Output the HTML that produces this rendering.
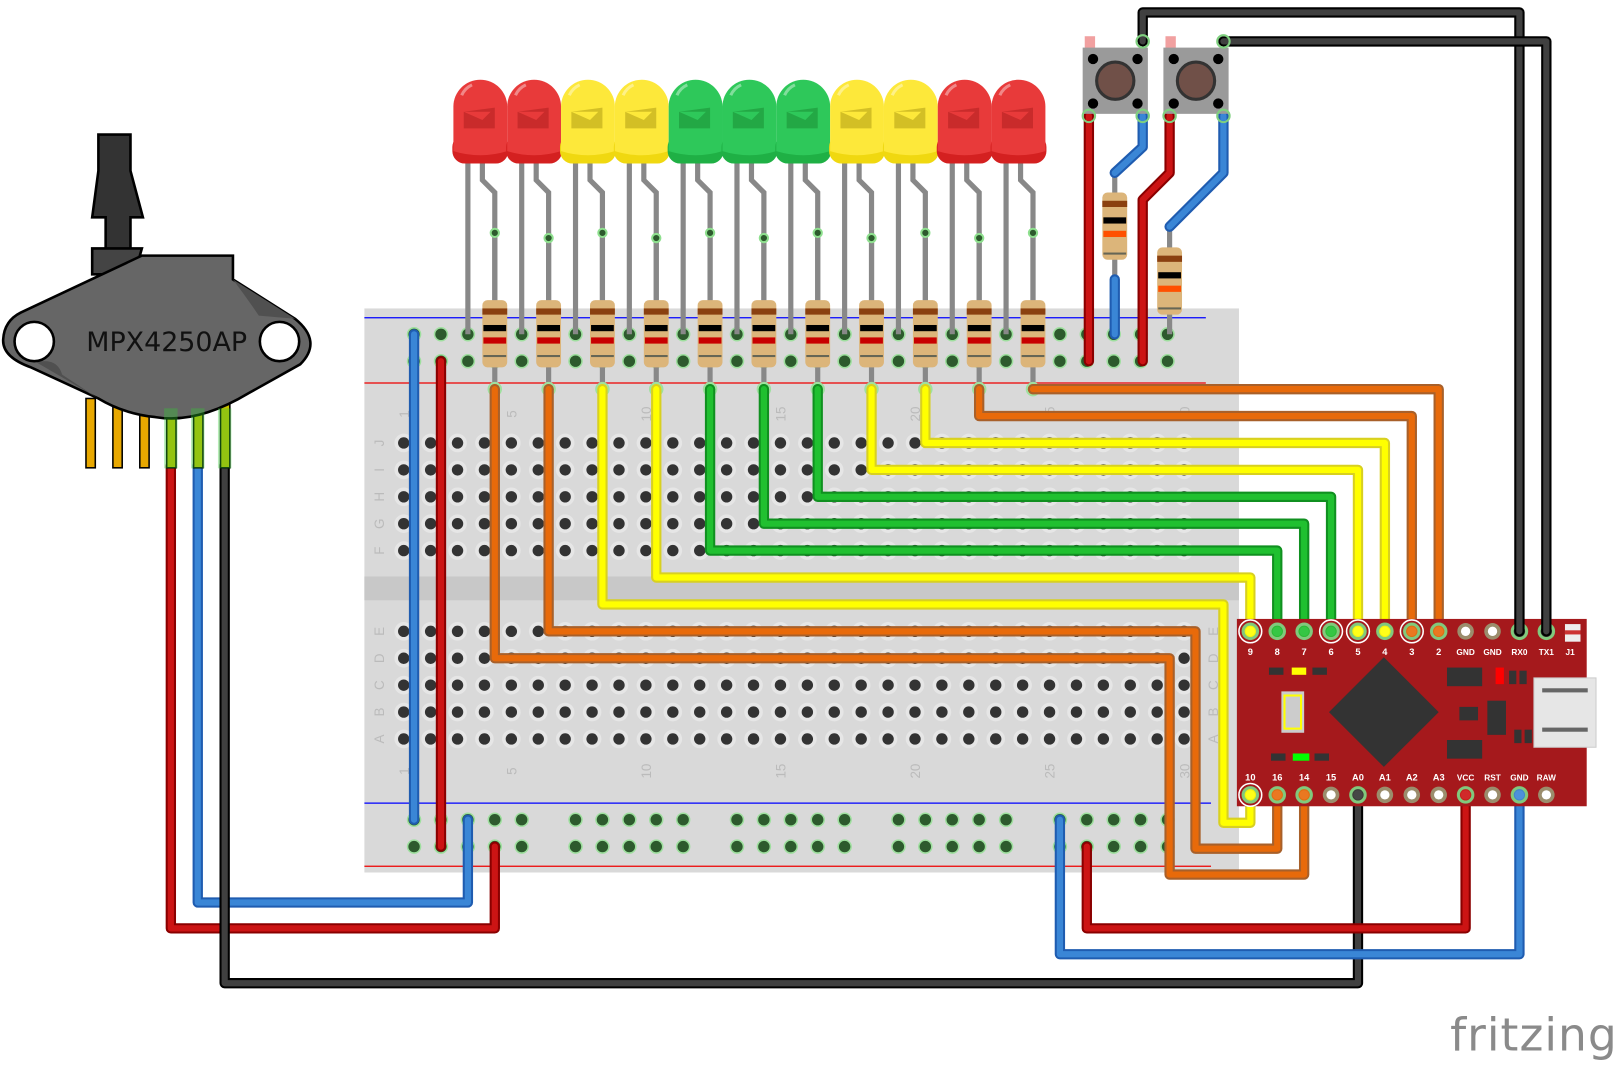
<!DOCTYPE html>
<html><head><meta charset="utf-8"><style>html,body{margin:0;padding:0;background:#fff;overflow:hidden}svg{display:block}</style></head>
<body>
<svg id="s" xmlns="http://www.w3.org/2000/svg" width="1623" height="1065" viewBox="0 0 1568 1029" font-family="Liberation Sans, DejaVu Sans, sans-serif"></svg>
<script>
const S=document.getElementById('s');let h='';
function add(x){h+=x}
function wire(pts,c,d){const p=pts.map(a=>a.join(',')).join(' ');
 add(`<polyline points="${p}" fill="none" stroke="${d}" stroke-width="10" stroke-linejoin="round" stroke-linecap="round"/>`);
 add(`<polyline points="${p}" fill="none" stroke="${c}" stroke-width="6" stroke-linejoin="round" stroke-linecap="round"/>`);}
function hole(x,y,g){ if(g) add(`<circle cx="${x}" cy="${y}" r="7" fill="#8fe08f" opacity=".8"/>`);
 add(`<circle cx="${x}" cy="${y}" r="5.5" fill="${g?'#2d5a2d':'#333'}"/>`);}
add(`<rect x="352" y="298" width="845" height="545" fill="#d9d9d9"/>`);
add(`<rect x="352" y="557" width="845" height="23" fill="#c8c8c8"/>`);
add(`<line x1="352" y1="307" x2="1165" y2="307" stroke="#00f" stroke-width="1.2"/>`);
add(`<line x1="352" y1="370" x2="1165" y2="370" stroke="#e00" stroke-width="1.2"/>`);
add(`<line x1="352" y1="776" x2="1170" y2="776" stroke="#00f" stroke-width="1.2"/>`);
add(`<line x1="352" y1="837" x2="1170" y2="837" stroke="#e00" stroke-width="1.2"/>`);
const rows=[428,454,480,506,532,610,636,662,688,714];const rl='JIHGFEDCBA';
for(let r=0;r<10;r++){for(let c=0;c<30;c++){const x=390+c*26;add(`<circle cx="${x}" cy="${rows[r]}" r="9" fill="#e6e6e6"/>`);hole(x,rows[r],false)}
 add(`<text x="366" y="${rows[r]+5}" font-size="13" fill="#bbb" text-anchor="middle" transform="rotate(-90 366 ${rows[r]})">${rl[r]}</text>`);
 add(`<text x="1172" y="${rows[r]+5}" font-size="13" fill="#bbb" text-anchor="middle" transform="rotate(-90 1172 ${rows[r]})">${rl[r]}</text>`);}
for(const n of [1,5,10,15,20,25,30]){const x=390+(n-1)*26+5;
 add(`<text x="${x}" y="400" font-size="13" fill="#bbb" text-anchor="middle" transform="rotate(-90 ${x} 400)">${n}</text>`);
 add(`<text x="${x}" y="745" font-size="13" fill="#bbb" text-anchor="middle" transform="rotate(-90 ${x} 745)">${n}</text>`);}
for(let g=0;g<5;g++)for(let i=0;i<5;i++){const x=400+g*156+i*26;for(const y of [323,349,792,818])hole(x,y,true)}
wire([[400,323],[400,792]],'#3a86d6','#1f5cb0');
wire([[426,349],[426,818]],'#cc1414','#8a0000');
const cols=[['#e83a3a','#d42020','#c02828'],['#e83a3a','#d42020','#c02828'],['#fde83a','#f0d810','#c8b420'],['#fde83a','#f0d810','#c8b420'],['#2ec85a','#1fb045','#20a040'],['#2ec85a','#1fb045','#20a040'],['#2ec85a','#1fb045','#20a040'],['#fde83a','#f0d810','#c8b420'],['#fde83a','#f0d810','#c8b420'],['#e83a3a','#d42020','#c02828'],['#e83a3a','#d42020','#c02828']];
const wc=[['#e86a0a','#a8602a'],['#e86a0a','#a8602a'],['#ffff00','#d8d020'],['#ffff00','#d8d020'],['#20c030','#109020'],['#20c030','#109020'],['#20c030','#109020'],['#ffff00','#d8d020'],['#ffff00','#d8d020'],['#e86a0a','#a8602a'],['#e86a0a','#a8602a']];
for(let i=0;i<11;i++){const cx=464+i*52,L=cx-12,R=cx+14;
 add(`<polyline points="${L},150 ${L},323" fill="none" stroke="#888" stroke-width="5"/>`);
 add(`<polyline points="${cx+2},150 ${cx+2},174 ${R},186 ${R},290" fill="none" stroke="#888" stroke-width="5"/>`);
 add(`<rect x="${cx-27}" y="130" width="54" height="28" rx="12" fill="${cols[i][1]}"/>`);
 add(`<path d="M${cx-26},${146} V${103} a26,26 0 0 1 52,0 V146 Q${cx},154 ${cx-26},146 Z" fill="${cols[i][0]}"/>`);
 add(`<path d="M${cx-16},108 h30 v-4 l-12,12 M${cx-16},108 v16 h30 v-20" fill="${cols[i][2]}" opacity=".8"/>`);
 add(`<path d="M${cx-18},92 a20,20 0 0 1 10,-10" stroke="#fff" stroke-width="3" fill="none" opacity=".4"/>`);
 add(`<line x1="${R}" y1="225" x2="${R}" y2="378" stroke="#888" stroke-width="5"/>`);
 add(`<circle cx="${R}" cy="${225+ (i%2)*5}" r="4" fill="#2d5a2d" stroke="#8fe08f" stroke-width="2"/>`);
 add(`<rect x="${R-12}" y="290" width="24" height="65" rx="5" fill="#dcb57a"/>`);
 add(`<rect x="${R-12}" y="298" width="24" height="6" fill="#8a4010"/><rect x="${R-11}" y="314" width="22" height="6" fill="#000"/><rect x="${R-11}" y="326" width="22" height="6" fill="#c80000"/><rect x="${R-11}" y="343" width="22" height="2" fill="#665"/>`);
 add(`<circle cx="${R}" cy="376" r="6" fill="${wc[i][0]}" stroke="#9fe09f" stroke-width="2"/>`);
}
const ly=[636,610,584,558,532,506,480,454,428,402,376];
wire([[478,376],[478,636],[1130,636],[1130,845],[1260,845],[1260,768]],...wc[0]);
wire([[530,376],[530,610],[1155,610],[1155,820],[1234,820],[1234,768]],...wc[1]);
wire([[582,376],[582,584],[1182,584],[1182,795],[1208,795],[1208,768]],...wc[2]);
for(let i=3;i<11;i++){const x=478+i*52,px=1208+(i-3)*26;wire([[x,376],[x,ly[i]],[px,ly[i]],[px,610]],...wc[i]);}
wire([[165,450],[165,897],[478,897],[478,818]],'#cc1414','#8a0000');
wire([[191,450],[191,872],[452,872],[452,792]],'#3a86d6','#1f5cb0');
wire([[217,450],[217,950],[1312,950],[1312,768]],'#404040','#000');
wire([[1024,792],[1024,922],[1468,922],[1468,768]],'#3a86d6','#1f5cb0');
wire([[1050,818],[1050,897],[1416,897],[1416,768]],'#cc1414','#8a0000');
add(`<rect x="1195" y="598" width="338" height="181" fill="#a5191c"/>`);
add(`<path d="M1337,635 L1390,688 L1337,741 L1284,688Z" fill="#333"/>`);
add(`<rect x="1482" y="655" width="60" height="67" fill="#e6e6e6" stroke="#ccc"/><rect x="1490" y="665" width="44" height="4" fill="#666"/><rect x="1490" y="703" width="44" height="4" fill="#666"/>`);
add(`<rect x="1238" y="668" width="22" height="40" fill="#ccc"/><rect x="1241" y="672" width="16" height="32" fill="none" stroke="#ff0" stroke-width="2"/>`);
add(`<rect x="1248" y="645" width="14" height="7" fill="#ff0"/><rect x="1226" y="645" width="14" height="7" fill="#333"/><rect x="1268" y="645" width="14" height="7" fill="#333"/>`);
add(`<rect x="1249" y="728" width="16" height="7" fill="#0f0"/><rect x="1228" y="728" width="14" height="7" fill="#333"/><rect x="1270" y="728" width="14" height="7" fill="#333"/>`);
add(`<rect x="1398" y="645" width="34" height="18" fill="#333"/><rect x="1398" y="715" width="34" height="18" fill="#333"/><rect x="1437" y="677" width="18" height="33" fill="#333"/><rect x="1445" y="645" width="8" height="16" fill="#f00"/><rect x="1458" y="648" width="7" height="13" fill="#333"/><rect x="1468" y="648" width="7" height="13" fill="#333"/><rect x="1410" y="683" width="18" height="13" fill="#333"/><rect x="1463" y="705" width="7" height="13" fill="#333"/><rect x="1473" y="705" width="7" height="13" fill="#333"/>`);
add(`<rect x="1512" y="603" width="15" height="17" fill="#eee"/><rect x="1512" y="609" width="15" height="4" fill="#c33"/>`);
const tp=['9','8','7','6','5','4','3','2','GND','GND','RX0','TX1'],bp=['10','16','14','15','A0','A1','A2','A3','VCC','RST','GND','RAW'];
for(let i=0;i<12;i++){const x=1208+i*26;
 for(const [y,lbl,ly2] of [[610,tp[i],633],[768,bp[i],754]]){
  add(`<circle cx="${x}" cy="${y}" r="8" fill="#9b8d6c"/><circle cx="${x}" cy="${y}" r="4.5" fill="#fff"/>`);
  add(`<text x="${x}" y="${ly2}" font-size="${lbl.length>2?8:9}" font-weight="bold" fill="#fff" text-anchor="middle">${lbl}</text>`);}}
add(`<text x="1517" y="633" font-size="8" font-weight="bold" fill="#fff" text-anchor="middle">J1</text>`);
const ends=[[1208,610,'#ffff00'],[1234,610,'#20c030'],[1260,610,'#20c030'],[1286,610,'#20c030'],[1312,610,'#ffff00'],[1338,610,'#ffff00'],[1364,610,'#e86a0a'],[1390,610,'#e86a0a'],[1468,610,'#333'],[1494,610,'#333'],[1208,768,'#ffff00'],[1234,768,'#e86a0a'],[1260,768,'#e86a0a'],[1312,768,'#333'],[1416,768,'#cc1414'],[1468,768,'#3a86d6']];
for(const [x,y,c] of ends)add(`<circle cx="${x}" cy="${y}" r="7" fill="${c}" stroke="#7fd07f" stroke-width="3" opacity=".9"/>`);
for(const x of [1208,1286,1312,1364])add(`<circle cx="${x}" cy="610" r="11" fill="none" stroke="#fff" stroke-width="1.5"/>`);
add(`<circle cx="1208" cy="768" r="11" fill="none" stroke="#fff" stroke-width="1.5"/>`);
wire([[1104,40],[1104,12],[1468,12],[1468,610]],'#404040','#000');
wire([[1182,40],[1494,40],[1494,610]],'#404040','#000');
wire([[1052,112],[1052,349]],'#cc1414','#8a0000');
wire([[1130,112],[1130,167],[1104,193],[1104,349]],'#cc1414','#8a0000');
function res(x,y1,y2,b){add(`<line x1="${x}" y1="${y1}" x2="${x}" y2="${y2}" stroke="#888" stroke-width="5"/>`);
 add(`<rect x="${x-12}" y="${b}" width="24" height="65" rx="5" fill="#dcb57a"/><rect x="${x-12}" y="${b+8}" width="24" height="6" fill="#8a4010"/><rect x="${x-11}" y="${b+24}" width="22" height="6" fill="#000"/><rect x="${x-11}" y="${b+37}" width="22" height="6" fill="#ff5000"/><rect x="${x-11}" y="${b+58}" width="22" height="2" fill="#665"/>`);}
res(1077,167,270,186);res(1130,219,323,239);
wire([[1077,270],[1077,323]],'#3a86d6','#1f5cb0');
wire([[1104,112],[1104,142],[1077,167]],'#3a86d6','#1f5cb0');
wire([[1182,112],[1182,167],[1130,219]],'#3a86d6','#1f5cb0');
for(const bx of [1046,1124]){add(`<rect x="${bx+2}" y="35" width="10" height="12" fill="#e88" opacity=".8"/>`);
 add(`<rect x="${bx}" y="46" width="63" height="64" fill="#9a9a9a"/>`);
 for(const [dx,dy] of [[10,57],[53,57],[10,100],[53,100]])add(`<circle cx="${bx+dx}" cy="${dy}" r="5" fill="#000"/>`);
 add(`<circle cx="${bx+31.5}" cy="78" r="18" fill="#705048" stroke="#333" stroke-width="3"/>`);}
for(const [x,y] of [[1104,40],[1182,40],[1052,112],[1104,112],[1130,112],[1182,112]])add(`<circle cx="${x}" cy="${y}" r="6" fill="none" stroke="#7fd07f" stroke-width="2"/>`);
// sensor
add(`<path d="M95,130 H126 V165 L138,210 H126 V245 L132,252 H95 L102,245 V210 H89 L95,165Z" fill="#333" stroke="#000" stroke-width="2.5"/>`);
add(`<path d="M89,240 L89,265 L130,265 L137,240Z" fill="#444" stroke="#000" stroke-width="2.5"/>`);
for(const x of [87,113,139,165,191,217])add(`<rect x="${x-4}" y="385" width="9" height="67" fill="${x>150?'#c8c000':'#e8a800'}" stroke="#000" stroke-width="1.5"/>`);
add(`<path d="M137,247 L225,247 L225,270 L285,308 Q312,330 290,352 L240,380 Q190,410 150,403 Q120,400 95,385 L30,355 Q2,345 3,328 Q4,310 20,302 Z" fill="#666" stroke="#000" stroke-width="2.5"/>`);
add(`<path d="M225,270 Q240,290 250,305 L285,308Z" fill="#505050"/><path d="M35,350 Q55,345 60,362 L95,385Z" fill="#505050"/>`);
add(`<circle cx="33" cy="330" r="19" fill="#fff" stroke="#000" stroke-width="2.5"/><circle cx="270" cy="330" r="19" fill="#fff" stroke="#000" stroke-width="2.5"/>`);
add(`<text x="161" y="339" font-size="26" fill="#111" text-anchor="middle" font-family="DejaVu Sans, sans-serif">MPX4250AP</text>`);
for(const x of [165,191,217])add(`<rect x="${x-6}" y="395" width="12" height="57" fill="#3c3" opacity=".35" stroke="#3c3"/>`);
add(`<text x="1401" y="1015" font-size="44" fill="#8a8a8a" font-family="DejaVu Sans, sans-serif" letter-spacing="1">fritzing</text>`);
S.innerHTML=h;
</script>
</body></html>
